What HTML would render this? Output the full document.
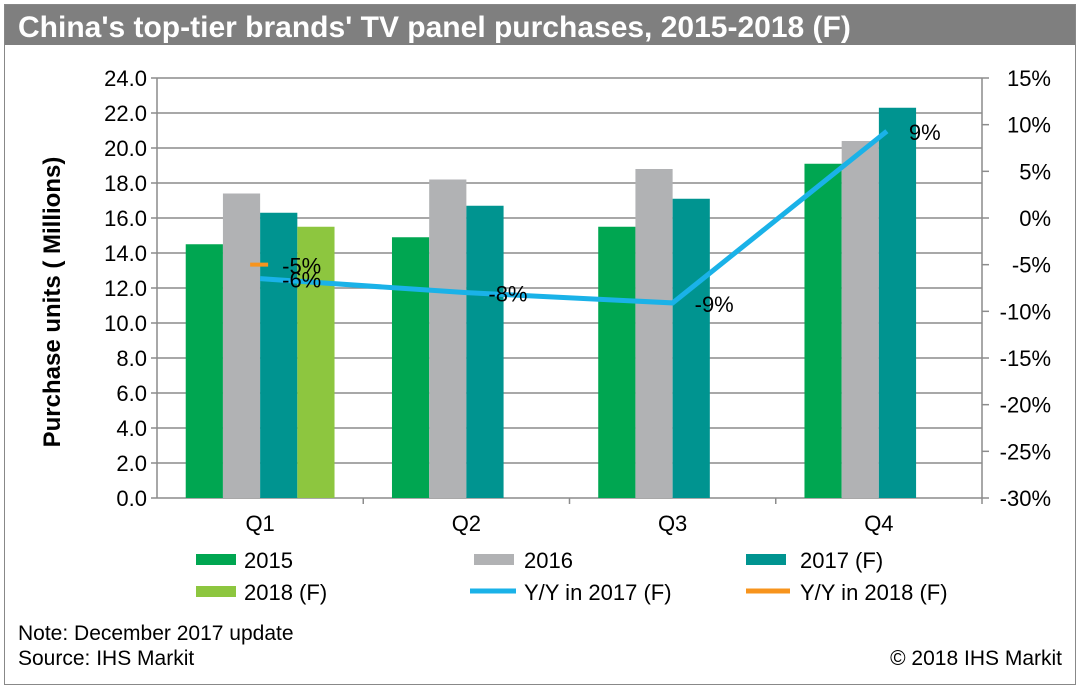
<!DOCTYPE html>
<html><head><meta charset="utf-8"><style>
body{margin:0;background:#fff;}
svg{display:block;font-family:"Liberation Sans",Arial,sans-serif;}
</style></head><body>
<svg id="c" width="1080" height="689" viewBox="0 0 1080 689">
<rect x="4.5" y="4.5" width="1071" height="680" fill="#fff" stroke="#888"/>
<rect x="5" y="5" width="1070" height="40" fill="#7f7f7f"/>
<text x="18" y="37" font-size="30" font-weight="bold" fill="#fff">China's top-tier brands' TV panel purchases, 2015-2018 (F)</text>
<g id="grid"></g><g id="bars"></g><g id="lines"></g><g id="axes"></g>
<text transform="translate(60,302) rotate(-90)" text-anchor="middle" font-size="24" font-weight="bold" fill="#000">Purchase units ( Millions)</text>
<g font-size="22" fill="#000">
<rect x="196" y="554" width="40" height="11" fill="#00a651"/><text x="244" y="568">2015</text>
<rect x="474" y="554" width="40" height="11" fill="#b1b2b4"/><text x="524" y="568">2016</text>
<rect x="746" y="554" width="40" height="11" fill="#009490"/><text x="800" y="568">2017 (F)</text>
<rect x="196" y="586" width="40" height="11" fill="#8dc63f"/><text x="244" y="600">2018 (F)</text>
<line x1="470" y1="591" x2="516" y2="591" stroke="#1ab2e8" stroke-width="5"/><text x="524" y="600">Y/Y in 2017 (F)</text>
<line x1="746" y1="591" x2="790" y2="591" stroke="#f7941d" stroke-width="5"/><text x="800" y="600">Y/Y in 2018 (F)</text>
</g>
<text x="18" y="640" font-size="21">Note: December 2017 update</text>
<text x="18" y="665" font-size="21">Source: IHS Markit</text>
<text x="1062" y="665" font-size="21" text-anchor="end">© 2018 IHS Markit</text>
</svg>
<script>
const categories=["Q1","Q2","Q3","Q4"];
const s2015=[14.5,14.9,15.5,19.1];
const s2016=[17.4,18.2,18.8,20.4];
const s2017=[16.3,16.7,17.1,22.3];
const s2018=[15.5,null,null,null];
const yy2017=[-6.5,-8.0,-9.1,9.3];
const yy2017Labels=["-6%","-8%","-9%","9%"];
const yy2018=[-5.0,null,null,null];
const yy2018Labels=["-5%","","",""];
const leftTicks=[0,2,4,6,8,10,12,14,16,18,20,22,24];
const rightTicks=[-30,-25,-20,-15,-10,-5,0,5,10,15];
const NS="http://www.w3.org/2000/svg";
const X0=157,X1=982,Y0=498,Y1=78;
const y=v=>Y0-(v/24)*(Y0-Y1);
const yr=v=>Y0-((v+30)/45)*(Y0-Y1);
const cw=(X1-X0)/categories.length;
const cx=i=>X0+cw*(i+0.5);
const lx=i=>cx(i)+(i===3?8:0);
function mk(tag,attrs,parent,txt){const e=document.createElementNS(NS,tag);for(const k in attrs)e.setAttribute(k,attrs[k]);if(txt!=null)e.textContent=txt;parent.appendChild(e);return e;}
const G=document.getElementById('grid'),B=document.getElementById('bars'),L=document.getElementById('lines'),A=document.getElementById('axes');
leftTicks.forEach(t=>{
 const l=mk('line',{x1:X0-6,x2:X1,y1:y(t),y2:y(t),stroke:'#8c8c8c','stroke-width':1.5},G);
 
 
 const tx=mk('text',{x:X0-10,y:y(t)+8,'text-anchor':'end','font-size':22},A,t.toFixed(1));
 
 
});
rightTicks.forEach(t=>{
 const l=mk('line',{x1:X1,x2:X1+7,y1:yr(t),y2:yr(t),stroke:'#8c8c8c','stroke-width':1.5},A);
 
 
 const tx=mk('text',{x:1051,y:yr(t)+8,'text-anchor':'end','font-size':22},A,t+'%');
 
 
});
const la=mk('line',{x1:X0,x2:X0,y1:Y1,y2:Y0,stroke:'#8c8c8c','stroke-width':1.5},A);


const ra=mk('line',{x1:X1,x2:X1,y1:Y1,y2:Y0,stroke:'#8c8c8c','stroke-width':1.5},A);


categories.forEach((c,i)=>{
 const tx=mk('text',{x:cx(i),y:531,'text-anchor':'middle','font-size':22},A,c);
 
 
 const tk=mk('line',{x1:X0+cw*(i+1),x2:X0+cw*(i+1),y1:Y0,y2:Y0+6,stroke:'#8c8c8c','stroke-width':1.5},A);
 
 
});
const series=[[s2015,'#00a651','2015'],[s2016,'#b1b2b4','2016'],[s2017,'#009490','2017'],[s2018,'#8dc63f','2018']];
const bw=37.2;
series.forEach((s,k)=>{s[0].forEach((v,i)=>{if(v==null)return;
 const r=mk('rect',{x:cx(i)-2*bw+k*bw,y:y(v),width:bw,height:Y0-y(v),fill:s[1]},B);
 
 
});});
const pts=yy2017.map((v,i)=>lx(i)+','+yr(v)).join(' ');
const pl=mk('polyline',{points:pts,fill:'none',stroke:'#1ab2e8','stroke-width':5},L);


yy2017.forEach((v,i)=>{
 const tx=mk('text',{x:lx(i)+22,y:yr(v)+9,'font-size':22},L,yy2017Labels[i]);
 
 
});
yy2018.forEach((v,i)=>{if(v==null)return;
 const m=mk('line',{x1:cx(i)-10,x2:cx(i)+8,y1:yr(v),y2:yr(v),stroke:'#f7941d','stroke-width':4},L);
 
 
 const tx=mk('text',{x:cx(i)+22,y:yr(v)+9,'font-size':22},L,yy2018Labels[i]);
 
 
});
</script>
</body></html>
